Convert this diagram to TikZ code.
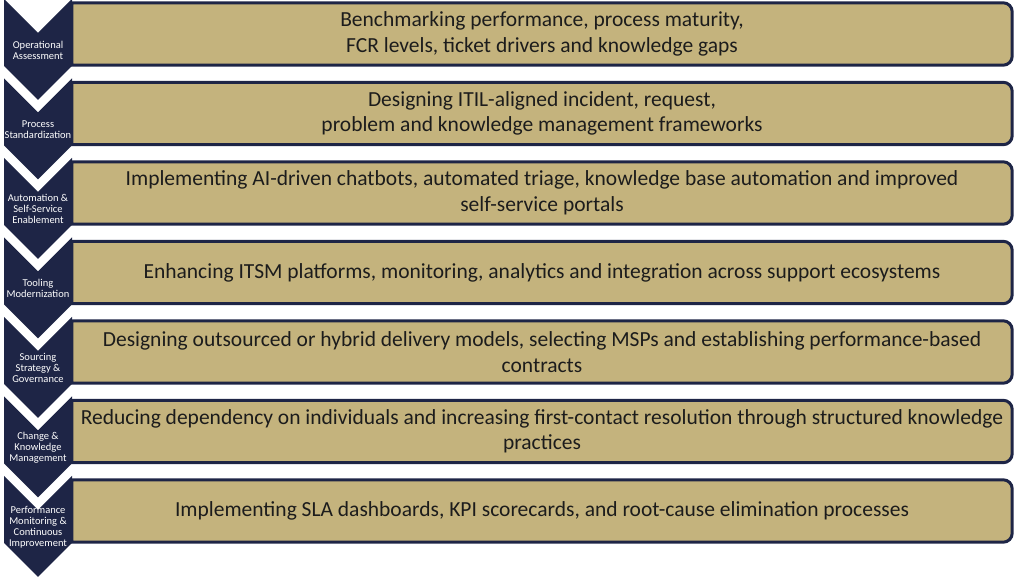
\documentclass[tikz,border=0pt]{standalone}
\usepackage{fontspec}
\setmainfont{Carlito}
\usetikzlibrary{backgrounds}
\definecolor{navy}{RGB}{30,37,70}
\definecolor{tanfill}{RGB}{196,179,125}
\definecolor{ink}{RGB}{28,28,28}
\begin{document}
\begin{tikzpicture}[x=1pt,y=1pt,
  chev/.style={fill=navy},
  chevlabel/.style={text=white, font=\fontsize{10.5}{11}\selectfont, align=center, inner sep=0pt},
  boxtext/.style={text=ink, font=\fontsize{21.5}{25.5}\selectfont, align=center, minimum width=940pt, minimum height=62pt, inner sep=0pt},
  boxline/.style={draw=navy, fill=tanfill, line width=3pt}]
\useasboundingbox (0,0) rectangle (1024,577);
% chevrons
\foreach \i in {0,...,6}{
  \pgfmathsetmacro{\T}{578-79.5*\i}
  \fill[chev] (4,\T) -- (38,\T-34) -- (72,\T) -- (72,\T-67) -- (38,\T-101) -- (4,\T-67) -- cycle;
}
% chevron labels
\node[chevlabel] (c1) at (38,527) {Operational\\Assessment};
\node[chevlabel] (c2) at (38,447.5) {Process\\Standardization};
\node[chevlabel] (c3) at (38,368) {Automation \&\\Self-Service\\Enablement};
\node[chevlabel] (c4) at (38,288.5) {Tooling\\Modernization};
\node[chevlabel] (c5) at (38,209) {Sourcing\\Strategy \&\\Governance};
\node[chevlabel] (c6) at (38,129.5) {Change \&\\Knowledge\\Management};
\node[chevlabel] (c7) at (38,50) {Performance\\Monitoring \&\\Continuous\\Improvement};
% boxes
\node[boxtext] (b1) at (542,543) {Benchmarking performance, process maturity,\\FCR levels, ticket drivers and knowledge gaps};
\node[boxtext] (b2) at (542,463.5) {Designing ITIL-aligned incident, request,\\problem and knowledge management frameworks};
\node[boxtext] (b3) at (542,384) {Implementing AI-driven chatbots, automated triage, knowledge base automation and improved\\self-service portals};
\node[boxtext] (b4) at (542,304.5) {Enhancing ITSM platforms, monitoring, analytics and integration across support ecosystems};
\node[boxtext] (b5) at (542,225) {Designing outsourced or hybrid delivery models, selecting MSPs and establishing performance-based\\contracts};
\node[boxtext] (b6) at (542,145.5) {Reducing dependency on individuals and increasing first-contact resolution through structured knowledge\\practices};
\node[boxtext] (b7) at (542,66) {Implementing SLA dashboards, KPI scorecards, and root-cause elimination processes};
\begin{scope}[on background layer]
\foreach \b in {b1,b2,b3,b4,b5,b6,b7}{
  \draw[boxline] (\b.south west) -- (\b.north west) -- ([xshift=-9pt]\b.north east)
    arc[start angle=90, end angle=0, radius=9pt] -- ([yshift=9pt]\b.south east)
    arc[start angle=0, end angle=-90, radius=9pt] -- cycle;
}
\end{scope}
\end{tikzpicture}
\end{document}
